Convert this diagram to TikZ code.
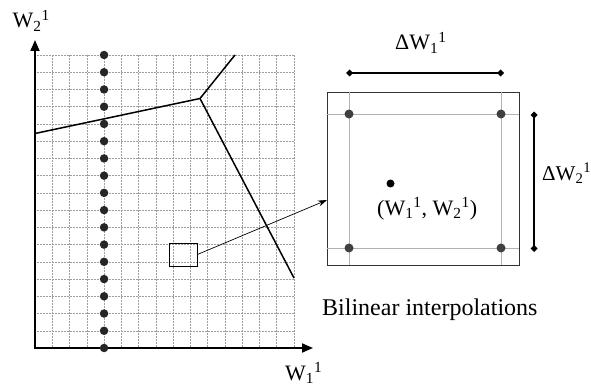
\documentclass[tikz,border=0pt]{standalone}
\usepackage{fontspec}
\setmainfont{Liberation Serif}
\usetikzlibrary{arrows.meta}
\begin{document}
\begin{tikzpicture}[x=1pt,y=-1pt,
  gridline/.style={gray!75, line width=0.5pt, densely dotted},
  axis/.style={line width=1.8pt, {Triangle[length=11pt,width=9pt]}-{Triangle[length=11pt,width=9pt]}},
  boundary/.style={line width=1.5pt},
  griddot/.style={circle, fill=black!85, inner sep=0pt, minimum size=8.5pt},
  cornerdot/.style={circle, fill=black!75, inner sep=0pt, minimum size=9pt},
  innerline/.style={gray!60, line width=0.6pt},
  lbl/.style={inner sep=0pt, anchor=base west},
  dimline/.style={line width=1.3pt, {Diamond[length=7pt,width=7pt]}-{Diamond[length=7pt,width=7pt]}}
]
\useasboundingbox (0,0) rectangle (591,390);
\def\dx{17.2667}
\def\dy{17.2353}
% grid
\foreach \i in {1,...,15} \draw[gridline] (35+\i*\dx,55) -- (35+\i*\dx,348);
\foreach \j in {0,...,16} \draw[gridline] (35,55+\j*\dy) -- (294,55+\j*\dy);
% axes
\coordinate (O) at (35,348);
\coordinate (ytip) at (35,40);
\coordinate (xtip) at (313,348);
\draw[axis] (ytip) -- (O) -- (xtip);
% column of dots
\foreach \j in {0,...,17} \node[griddot] (d\j) at (35+4*\dx,55+\j*\dy) {};
% boundaries
\coordinate (A) at (35,133.5);
\coordinate (J) at (200,98.5);
\coordinate (B) at (235,55);
\coordinate (C) at (294,278);
\draw[boundary] (A) -- (J) -- (B);
\draw[boundary] (J) -- (C);
% small box and zoom arrow
\node[draw, line width=0.8pt, minimum width=28pt, minimum height=23pt, inner sep=0pt] (small) at (183,254.5) {};
\node[draw, line width=0.9pt, black!80, minimum width=192pt, minimum height=173pt, inner sep=0pt] (big) at (423,178.5) {};
\coordinate (aE) at (327,200);
\draw[line width=0.7pt, -{Stealth[length=9pt,width=6pt]}] (small.east) -- (aE);
% inner lines of the big box
\draw[innerline] (349,92) -- (349,265);
\draw[innerline] (501,92) -- (501,265);
\draw[innerline] (327,114) -- (519,114);
\draw[innerline] (327,248) -- (519,248);
\node[cornerdot] (c1) at (349,114) {};
\node[cornerdot] (c2) at (501,114) {};
\node[cornerdot] (c3) at (349,248) {};
\node[cornerdot] (c4) at (501,248) {};
\node[circle, fill=black, inner sep=0pt, minimum size=8pt] (ctr) at (390.5,183.5) {};
% dimension lines
\coordinate (h1) at (346,73);
\coordinate (h2) at (504,73);
\coordinate (v1) at (534,111.5);
\coordinate (v2) at (534,252);
\draw[dimline] (h1) -- (h2);
\draw[dimline] (v1) -- (v2);
% labels
\node[lbl, font=\fontsize{22}{22}\selectfont] (w2) at (12.5,28) {W\textsubscript{2}\textsuperscript{1}};
\node[lbl, font=\fontsize{22}{22}\selectfont] (w1) at (285,380) {W\textsubscript{1}\textsuperscript{1}};
\node[lbl, font=\fontsize{22}{22}\selectfont] (dw1) at (395,50) {ΔW\textsubscript{1}\textsuperscript{1}};
\node[lbl, font=\fontsize{21}{21}\selectfont] (dw2) at (542,180) {ΔW\textsubscript{2}\textsuperscript{1}};
\node[lbl, font=\fontsize{22}{22}\selectfont] (pt) at (377,215) {(W\textsubscript{1}\textsuperscript{1}, W\textsubscript{2}\textsuperscript{1})};
\node[lbl, font=\fontsize{24}{24}\selectfont] (bil) at (322,315) {Bilinear interpolations};
\end{tikzpicture}
\end{document}
